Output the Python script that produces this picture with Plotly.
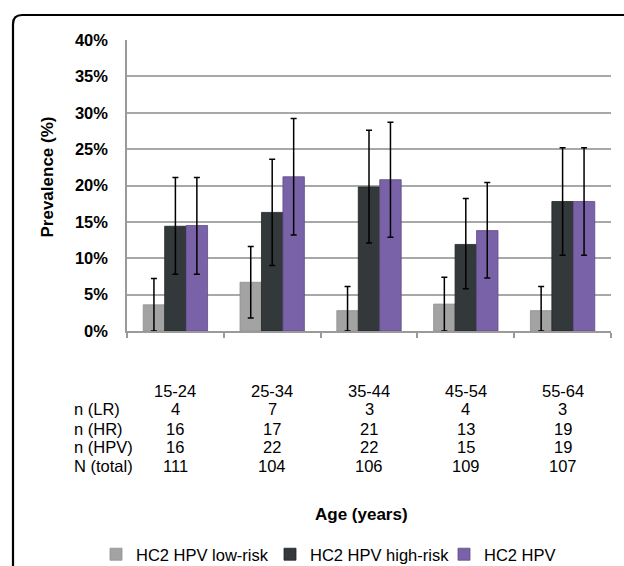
import plotly.graph_objects as go

# ---- data ----
age_groups = ["15-24", "25-34", "35-44", "45-54", "55-64"]

lr_vals = [3.6, 6.7, 2.8, 3.7, 2.8]
lr_upper = [7.2, 11.6, 6.1, 7.4, 6.1]
lr_lower = [0.0, 1.8, 0.0, 0.0, 0.0]

hr_vals = [14.4, 16.3, 19.8, 11.9, 17.8]
hr_upper = [21.1, 23.6, 27.6, 18.2, 25.2]
hr_lower = [7.8, 9.0, 12.1, 5.8, 10.4]

hpv_vals = [14.5, 21.2, 20.8, 13.8, 17.8]
hpv_upper = [21.1, 29.2, 28.7, 20.4, 25.2]
hpv_lower = [7.8, 13.2, 12.9, 7.3, 10.4]

row_labels = ["n (LR)", "n (HR)", "n (HPV)", "N (total)"]
n_lr = [4, 7, 3, 4, 3]
n_hr = [16, 17, 21, 13, 19]
n_hpv = [16, 22, 22, 15, 19]
n_total = [111, 104, 106, 109, 107]

series_names = ["HC2 HPV low-risk", "HC2 HPV high-risk", "HC2 HPV"]
y_ticks = [0, 5, 10, 15, 20, 25, 30, 35, 40]

# ---- styling ----
W, H = 624, 566
ML, MR, MT, MB = 127, 13, 40, 235
PW = W - ML - MR
PH = H - MT - MB
FONT = "Liberation Sans, Arial, sans-serif"

def px_x(px):
    return (px - ML) / PW

def px_y(py):
    return (H - MB - py) / PH

colors = ["#a3a3a3", "#33383a", "#7a62a8"]
edge = ["#8f8f8f", "#222526", "#5f4c86"]

fig = go.Figure()
for name, vals, up, lo, c, e in zip(
    series_names,
    [lr_vals, hr_vals, hpv_vals],
    [lr_upper, hr_upper, hpv_upper],
    [lr_lower, hr_lower, hpv_lower],
    colors, edge,
):
    fig.add_trace(go.Bar(
        x=age_groups, y=vals, name=name,
        marker=dict(color=c, line=dict(color=e, width=0.8)),
        error_y=dict(
            type="data", symmetric=False,
            array=[u - v for u, v in zip(up, vals)],
            arrayminus=[v - l for v, l in zip(vals, lo)],
            color="black", thickness=1.5, width=3,
        ),
    ))

# table under the axis
row_y = [409, 428.5, 447, 465.8]
annotations = []
for g in age_groups:
    annotations.append(dict(
        x=g, xref="x", y=px_y(390.7), yref="paper", text=g, showarrow=False,
        xanchor="center", yanchor="middle", font=dict(size=16.5, color="black", family=FONT),
    ))
for lab, rowvals, ry in zip(row_labels, [n_lr, n_hr, n_hpv, n_total], row_y):
    annotations.append(dict(
        x=px_x(72), xref="paper", y=px_y(ry), yref="paper", text=lab, showarrow=False,
        xanchor="left", yanchor="middle", font=dict(size=16.5, color="black", family=FONT),
    ))
    for g, v in zip(age_groups, rowvals):
        annotations.append(dict(
            x=g, xref="x", y=px_y(ry), yref="paper", text=str(v), showarrow=False,
            xanchor="center", yanchor="middle", font=dict(size=16.5, color="black", family=FONT),
        ))

annotations.append(dict(
    x=px_x(361), xref="paper", y=px_y(514), yref="paper", text="<b>Age (years)</b>",
    showarrow=False, xanchor="center", yanchor="middle",
    font=dict(size=17, color="black", family=FONT),
))
annotations.append(dict(
    x=px_x(46.5), xref="paper", y=px_y(177), yref="paper", text="<b>Prevalence (%)</b>",
    showarrow=False, xanchor="center", yanchor="middle", textangle=-90,
    font=dict(size=17, color="black", family=FONT),
))

# outer rounded frame (partly cropped)
l, t, r, b, rad = 13, 15, 650, 620, 9
path = (
    f"M {px_x(l)},{px_y(b)} L {px_x(l)},{px_y(t + rad)} "
    f"Q {px_x(l)},{px_y(t)} {px_x(l + rad)},{px_y(t)} L {px_x(r)},{px_y(t)}"
)

fig.update_layout(
    width=W, height=H,
    margin=dict(l=ML, r=MR, t=MT, b=MB, autoexpand=False),
    paper_bgcolor="white", plot_bgcolor="white",
    barmode="group", bargap=0.335, bargroupgap=0,
    font=dict(family=FONT, color="black"),
    showlegend=True,
    legend=dict(
        orientation="h", x=px_x(96), xanchor="left", y=px_y(537), yanchor="top",
        font=dict(size=16.5, family=FONT, color="black"),
        entrywidth=129, entrywidthmode="pixels", traceorder="normal",
        itemwidth=30,
    ),
    annotations=annotations,
    shapes=[dict(type="path", path=path, xref="paper", yref="paper",
                 line=dict(color="black", width=2.2), layer="above")],
    xaxis=dict(
        showticklabels=False, ticks="outside", ticklen=5, tickwidth=1.5,
        tickcolor="#9a9a9a", tickson="boundaries",
        showline=True, linecolor="#9a9a9a", linewidth=1.5,
        showgrid=False, zeroline=False,
    ),
    yaxis=dict(
        range=[0, 40], tickvals=y_ticks, ticktext=[f"<b>{v}%</b>" for v in y_ticks],
        showgrid=True, gridcolor="#a8a8a8", gridwidth=1.5,
        showline=True, linecolor="#9a9a9a", linewidth=1.5,
        zeroline=False, ticks="", ticklabelstandoff=14,
        tickfont=dict(size=16.5, family=FONT, color="black"),
    ),
)

fig.write_html(
    "out.html",
    config={"displayModeBar": False},
    post_script="document.body.style.margin='0px';document.body.style.overflow='hidden';",
)
